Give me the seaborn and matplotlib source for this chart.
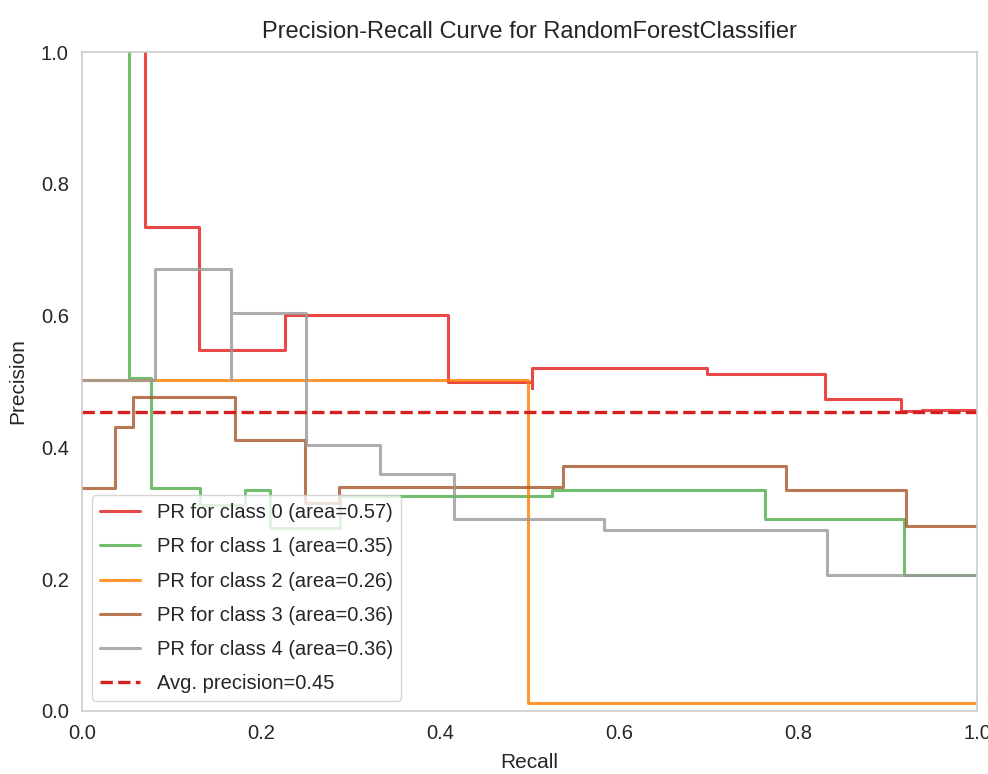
import matplotlib
matplotlib.use("Agg")
import matplotlib.pyplot as plt
import seaborn as sns

# PR curves (recall breakpoints, precision held until next breakpoint)
recall_0 = [0.070, 0.070, 0.131, 0.227, 0.409, 0.503, 0.503, 0.698, 0.830, 0.915, 0.938, 1.0]
precision_0 = [1.0, 0.735, 0.548, 0.601, 0.499, 0.490, 0.520, 0.512, 0.473, 0.455, 0.457, 0.457]

recall_1 = [0.053, 0.053, 0.077, 0.132, 0.182, 0.210, 0.288, 0.525, 0.763, 0.918, 1.0]
precision_1 = [1.0, 0.505, 0.338, 0.313, 0.335, 0.278, 0.327, 0.336, 0.292, 0.206, 0.206]

recall_2 = [0.0, 0.498, 1.0]
precision_2 = [0.503, 0.012, 0.012]

recall_3 = [0.0, 0.037, 0.057, 0.171, 0.249, 0.287, 0.537, 0.787, 0.921, 1.0]
precision_3 = [0.338, 0.431, 0.477, 0.411, 0.316, 0.340, 0.372, 0.336, 0.280, 0.280]

recall_4 = [0.0, 0.082, 0.167, 0.167, 0.250, 0.333, 0.416, 0.583, 0.832, 1.0]
precision_4 = [0.503, 0.670, 0.504, 0.604, 0.404, 0.360, 0.292, 0.274, 0.206, 0.206]

areas = [0.57, 0.35, 0.26, 0.36, 0.36]
avg_precision = 0.454
colors = ["#e41a1c", "#4daf4a", "#ff7f00", "#a65628", "#999999"]

sns.set_theme(style="white", rc={"axes.edgecolor": ".8", "axes.linewidth": 1.2,
                                 "text.color": ".15", "axes.labelcolor": ".15",
                                 "xtick.color": ".15", "ytick.color": ".15"})
plt.rcParams["font.family"] = ["Liberation Sans", "DejaVu Sans"]

fig = plt.figure(figsize=(9.88, 7.74), dpi=100)
ax = fig.add_axes([0.083, 0.0814, 0.906, 0.8514])

curves = [(recall_0, precision_0), (recall_1, precision_1), (recall_2, precision_2),
          (recall_3, precision_3), (recall_4, precision_4)]
for i, (r, p) in enumerate(curves):
    sns.lineplot(x=r, y=p, ax=ax, color=colors[i], alpha=0.8, lw=2.2,
                 drawstyle="steps-post", estimator=None, sort=False,
                 label="PR for class {} (area={:0.2f})".format(i, areas[i]))

ax.axhline(avg_precision, color="#d62020", ls="--", lw=2.4,
           label="Avg. precision={:0.2f}".format(avg_precision))

ax.set_xlim(0, 1)
ax.set_ylim(0, 1)
ax.grid(False)
ax.set_title("Precision-Recall Curve for RandomForestClassifier", fontsize=17, pad=10)
ax.set_xlabel("Recall", fontsize=15, labelpad=7)
ax.set_ylabel("Precision", fontsize=15, labelpad=10)
ax.tick_params(labelsize=14.5)
ax.legend(loc="lower left", fontsize=14.5, frameon=True, framealpha=0.8,
          labelspacing=0.75)

plt.savefig("out.png", dpi=100)
